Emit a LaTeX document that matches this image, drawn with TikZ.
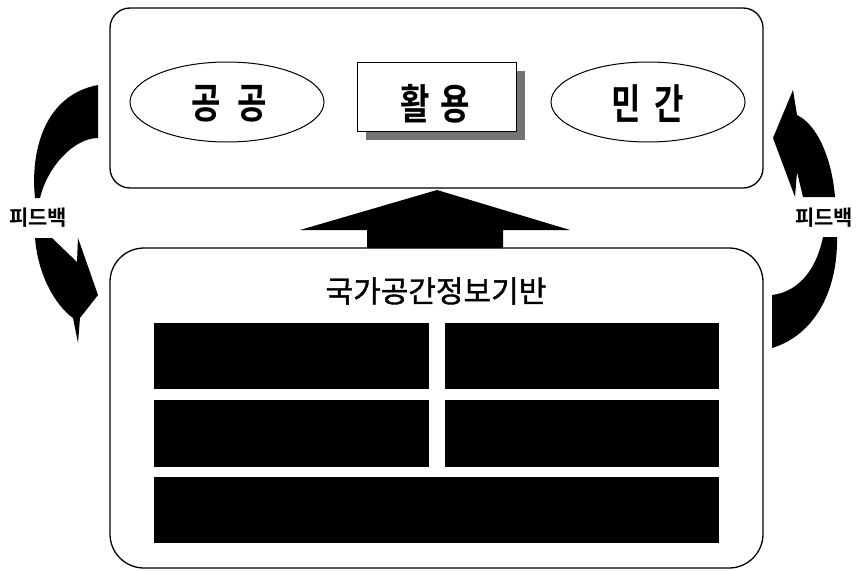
\documentclass[tikz,border=0pt]{standalone}
\usepackage{graphicx}
\usepackage{fontspec}
\newfontfamily\kr[BoldFont={Noto Sans CJK KR Bold}]{Noto Sans CJK KR}
\newfontfamily\krm[FakeBold=1.2]{Noto Sans CJK KR}
\usetikzlibrary{shapes.geometric}
\newcommand{\tallword}[1]{\scalebox{1}[1.3]{#1}}
\tikzset{
  frame/.style={draw=black, line width=1.3pt, fill=white},
  oval/.style={ellipse, draw=black, line width=1pt, minimum width=194pt, minimum height=80pt, inner sep=0pt},
  bigfont/.style={font=\kr\bfseries\fontsize{32}{32}\selectfont},
  usebox/.style={draw=black, line width=1pt, fill=white, minimum width=159pt, minimum height=69pt, inner sep=0pt},
  shadowbox/.style={fill=black!55, draw=none, minimum width=159pt, minimum height=69pt, inner sep=0pt},
  lbl/.style={inner sep=0pt},
  blk/.style={fill=black, draw=none, inner sep=0pt},
  fbtext/.style={font=\kr\bfseries\fontsize{21}{21}\selectfont, inner sep=0pt},
  bigarrow/.style={fill=black, draw=none}
}
\begin{document}
\begin{tikzpicture}[x=1pt, y=-1pt]
\useasboundingbox (0,0) rectangle (861,570);
% top box
\node[frame, rounded corners=20pt, minimum width=653pt, minimum height=180pt] (topbox) at (436.5,98) {};
\node[oval] (pub) at (227,102) {};
\node[oval] (priv) at (648,102) {};
\node[shadowbox] (usesh) at (445.5,105.5) {};
\node[usebox] (use) at (436.5,96.5) {};
\node[lbl, bigfont] (pubt) at (229,104) {\tallword{공\hspace{16pt}공}};
\node[lbl, bigfont] (uset) at (435,104) {\tallword{활\hspace{11pt}용}};
\node[lbl, bigfont] (privt) at (648,104) {\tallword{민\hspace{14pt}간}};
% bottom box
\node[frame, rounded corners=34pt, minimum width=653pt, minimum height=320pt] (botbox) at (436.5,408) {};
\node[font=\krm\fontsize{30}{30}\selectfont, inner sep=0pt] (title) at (436,291) {국가공간정보기반};
\node[blk, minimum width=275pt, minimum height=66pt] (r1) at (291.5,356) {};
\node[blk, minimum width=274pt, minimum height=66pt] (r2) at (582,356) {};
\node[blk, minimum width=275pt, minimum height=67pt] (r3) at (291.5,433.5) {};
\node[blk, minimum width=274pt, minimum height=67pt] (r4) at (582,433.5) {};
\node[blk, minimum width=565pt, minimum height=66pt] (r5) at (436.5,510) {};
% up arrow
\fill[bigarrow] (437,190) -- (570,230) -- (503,230) -- (503,248) -- (367,248) -- (367,230) -- (300,230) -- cycle;
% feedback labels
\node[fbtext] (fbl) at (38,218) {피드백};
\node[fbtext] (fbr) at (824,218) {피드백};
% left feedback arrow
\fill[bigarrow] (98,85) -- (98,138) .. controls (75,138) and (48,165) .. (40,198) -- (35,198) .. controls (30,150) and (45,95) .. (98,85) -- cycle;
\fill[bigarrow] (35,238) -- (52,238) -- (77,262) -- (78,238) -- (98,295) -- (80,318) -- (78,343) -- (73,318) .. controls (55,305) and (38,275) .. (35,238) -- cycle;
% right feedback arrow
\fill[bigarrow] (793,90) -- (797,115) .. controls (818,125) and (832,160) .. (835,197) -- (803,197) -- (797,172) -- (795,197) -- (773,138) -- cycle;
\fill[bigarrow] (823,237) -- (837,237) .. controls (838,290) and (815,335) .. (772,348) -- (772,295) .. controls (795,292) and (815,275) .. (823,237) -- cycle;
\end{tikzpicture}
\end{document}
